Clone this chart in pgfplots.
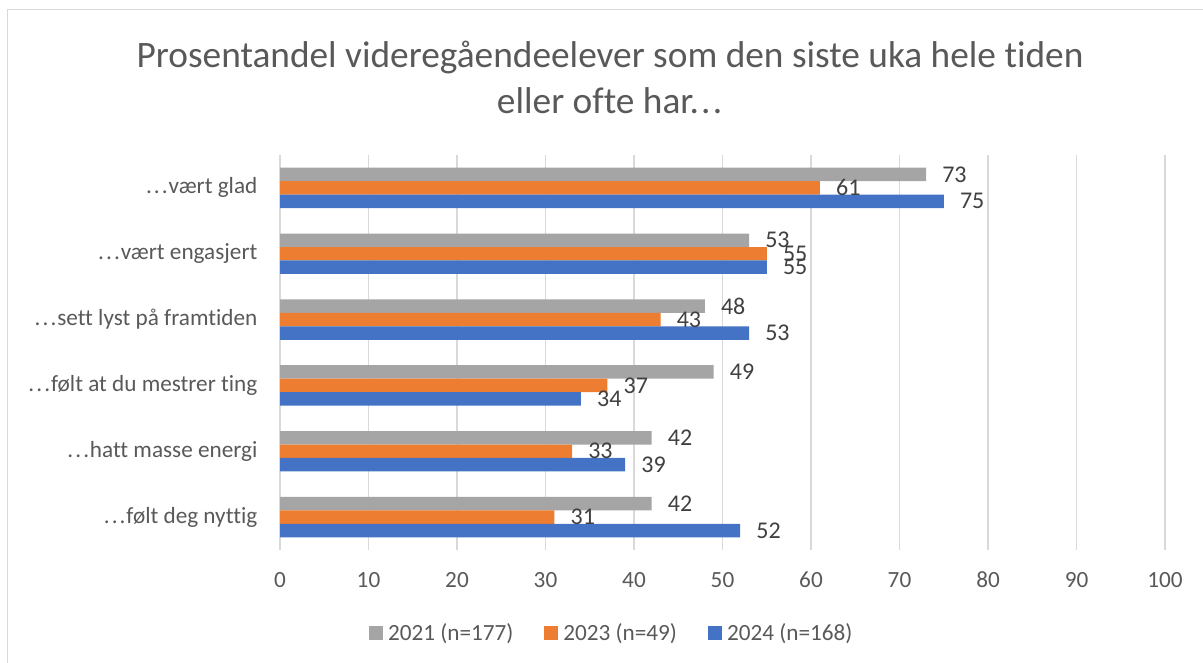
\documentclass[border=0pt]{standalone}
\usepackage{fontspec}
\setmainfont{Carlito}[Ligatures=NoCommon]
\usepackage{pgfplots}
\pgfplotsset{compat=1.18}
\usepackage{pgfplotstable}
\definecolor{cgray}{HTML}{A5A5A5}
\definecolor{corange}{HTML}{ED7D31}
\definecolor{cblue}{HTML}{4472C4}
\definecolor{txt}{HTML}{595959}
\definecolor{lbl}{HTML}{404040}
\definecolor{gridc}{HTML}{D9D9D9}
\newcommand\dd{.\kern1.6pt.\kern1.6pt.\kern0.6pt}

\pgfplotstableread{
y v2021 v2023 v2024
5 73 61 75
4 53 55 55
3 48 43 53
2 49 37 34
1 42 33 39
0 42 31 52
}\data

\begin{document}
\begin{tikzpicture}
\useasboundingbox (0,0) rectangle (902.25pt,497.25pt);
\draw[gridc, line width=0.75pt] (5.25pt,0) -- (5.25pt,489.75pt) -- (902.25pt,489.75pt);
\node[txt, font=\fontsize{28}{34}\selectfont, align=center] at (457.5pt,439.1pt) {Prosentandel videregåendeelever som den siste uka hele tiden\\eller ofte har\dd};
\begin{axis}[
  at={(210pt,84.75pt)}, anchor=south west,
  scale only axis, width=663.75pt, height=296.25pt,
  xmin=0, xmax=100, ymin=-0.5, ymax=5.5,
  xbar, bar width=10.1pt,
  axis line style={draw=none},
  xtick={0,10,20,30,40,50,60,70,80,90,100},
  ytick={0,1,2,3,4,5},
  yticklabels={\dd følt deg nyttig,\dd hatt masse energi,\dd følt at du mestrer ting,\dd sett lyst på framtiden,\dd vært engasjert,\dd vært glad},
  tick style={draw=none},
  xmajorgrids, grid style={gridc, line width=1pt},
  /pgf/number format/assume math mode=true,
  ticklabel style={txt, font=\fontsize{17.4}{20}\selectfont},
  xticklabel style={anchor=center, yshift=-22.5pt},
  yticklabel style={anchor=east, inner sep=0pt, xshift=-12.5pt},
  nodes near coords,
  nodes near coords style={lbl, font=\fontsize{18}{20}\selectfont, anchor=west, inner sep=0pt, xshift=12pt},
  legend style={at={(0.375,-0.21)}, anchor=center, draw=none, fill=none, legend columns=3,
    font=\fontsize{17.4}{20}\selectfont, text=txt,
    /tikz/every odd column/.append style={column sep=2pt},
    /tikz/every even column/.append style={column sep=21pt}},
  legend image code/.code={\fill[#1,draw=none] (0pt,-5.25pt) rectangle (10.5pt,5.25pt);},
]
\addplot[fill=cgray, draw=none, bar shift=10.1pt] table[x=v2021, y=y]{\data};
\addplot[fill=corange, draw=none, bar shift=0pt] table[x=v2023, y=y]{\data};
\addplot[fill=cblue, draw=none, bar shift=-10.1pt] table[x=v2024, y=y]{\data};
\legend{2021 (n=177),2023 (n=49),2024 (n=168)}
\end{axis}
\end{tikzpicture}
\end{document}
